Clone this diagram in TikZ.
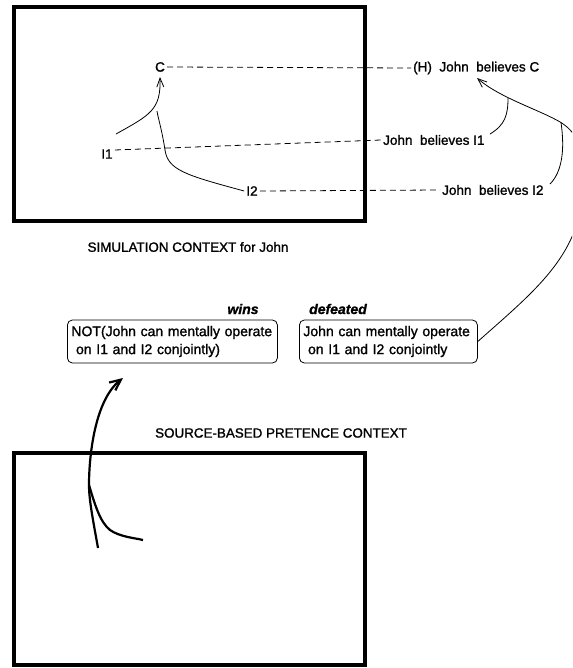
\documentclass[tikz,border=0pt]{standalone}
\usepackage{fontspec}
\setmainfont{Liberation Sans}[FakeBold=1.3]
\usetikzlibrary{arrows.meta}
\begin{document}
\begin{tikzpicture}[x=1pt,y=-1pt,
  lbl/.style={font=\fontsize{13.5}{15}\selectfont, inner sep=2pt},
  ttl/.style={font=\fontsize{13.4}{15}\selectfont, inner sep=0pt},
  tag/.style={font=\fontsize{14}{15}\selectfont\bfseries\itshape, inner sep=0pt},
  ctx/.style={line width=4.5pt},
  dl/.style={dash pattern=on 6pt off 4pt, line width=0.8pt},
  crv/.style={line width=0.8pt},
  barb/.style={-{Straight Barb[length=9pt,width=7pt]}},
  rbox/.style={draw, rounded corners=5pt, line width=0.8pt, align=left,
     font=\fontsize{14}{18}\selectfont, inner xsep=4pt, anchor=west,
     minimum height=43pt}
]
\useasboundingbox (0,0) rectangle (572,668);
\clip (0,0) rectangle (572,668);

% context boxes
\draw[ctx] (14,7) rectangle (365,221);
\draw[ctx] (14,453) rectangle (365,665);
\node[ttl] (sim) at (188,247) {SIMULATION CONTEXT for John};
\node[ttl] (src) at (281,433) {SOURCE-BASED PRETENCE CONTEXT};

% labels
\node[lbl] (C) at (160,67) {C};
\node[lbl, anchor=west] (HC) at (411,68) {(H)\ \ John\ \ believes C};
\node[lbl] (I1) at (107,154) {I1};
\node[lbl, anchor=west] (JI1) at (381,140) {John\ \ believes I1};
\node[lbl] (I2) at (252,191) {I2};
\node[lbl, anchor=west] (JI2) at (440,190) {John\ \ believes I2};

% dashed correspondences
\draw[dl] (C.east) -- (HC.west);
\draw[dl] ([yshift=4pt]I1.east) -- (JI1.west);
\draw[dl] (I2.east) -- (JI2.west);

% inference inside simulation
\coordinate (i1s) at (116,134);
\coordinate (j1) at (157,111);
\draw[crv, barb] (i1s) .. controls (150,115) and (161,110) .. ([yshift=-3pt]C.south);
\draw[crv] (I2.west) .. controls (185,175) and (168,170) .. (165,150)
   .. controls (162,130) and (158,118) .. (j1);

% boxes
\node[rbox, minimum width=210pt, text width=202pt] (NOT) at (67,341.5)
  {NOT(John can mentally operate\\\ on I1 and I2 conjointly)};
\node[rbox, minimum width=178pt, text width=170pt] (DEF) at (299,341.5)
  {John can mentally operate\\\ on I1 and I2 conjointly};
\node[tag] (wins) at (243,309) {wins};
\node[tag] (defd) at (338,309) {defeated};

% big curve from defeated box to (H)
\coordinate (b1) at (508,98);
\coordinate (b2) at (561,122.5);
\coordinate (hc) at (477,78);
\draw[crv, barb] (DEF.east) .. controls (530,295) and (575,260) .. (582,200)
   .. controls (584,150) and (580,135) .. (b2)
   .. controls (540,110) and (500,98) .. (hc);
\coordinate (e1) at (490,134);
\coordinate (e2) at (550,184);
\draw[crv] (e1) .. controls (505,125) and (508,115) .. (b1);
\draw[crv] (e2) .. controls (562,172) and (565,150) .. (b2);

% thick arrow from source context
\coordinate (s0) at (98,548);
\coordinate (sj) at (89,485);
\coordinate (s1) at (143,540);
\coordinate (tipA) at (123,378);
\draw[line width=2.2pt, -{Straight Barb[length=11pt,width=10pt]}]
  (s0) .. controls (93,520) and (89,500) .. (sj)
  .. controls (89,455) and (95,400) .. (tipA);
\draw[line width=2.2pt] (sj) .. controls (95,505) and (100,522) .. (110,530)
  .. controls (120,537) and (135,538) .. (s1);
\end{tikzpicture}
\end{document}
